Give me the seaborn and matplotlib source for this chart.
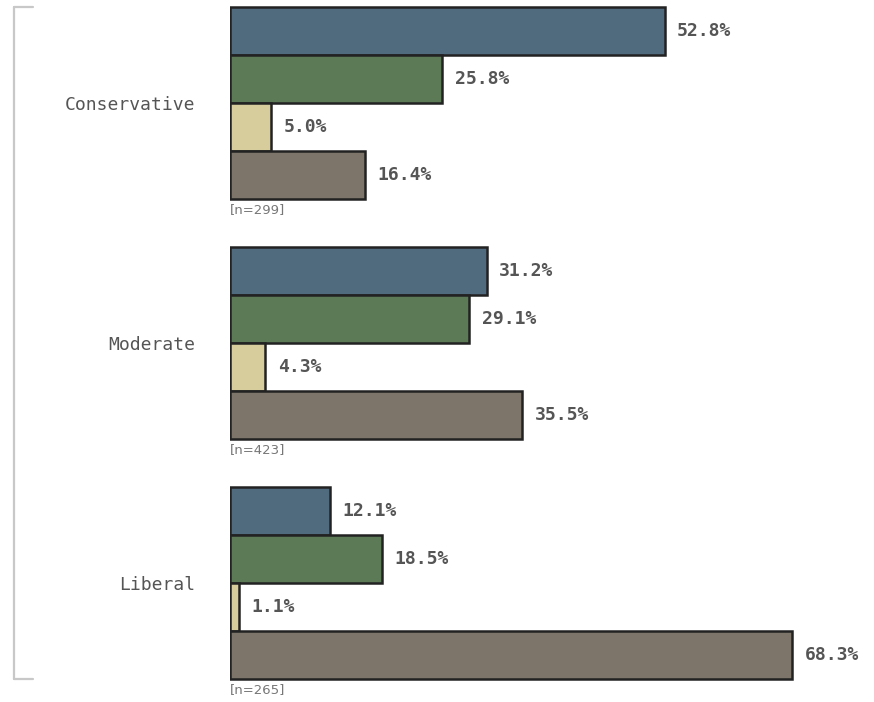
import matplotlib
matplotlib.use("Agg")
import matplotlib.pyplot as plt
import matplotlib.lines as mlines
import seaborn as sns
import pandas as pd

categories = ["Conservative", "Moderate", "Liberal"]
series = ["Series 1", "Series 2", "Series 3", "Series 4"]
values_s1 = [52.8, 31.2, 12.1]
values_s2 = [25.8, 29.1, 18.5]
values_s3 = [5.0, 4.3, 1.1]
values_s4 = [16.4, 35.5, 68.3]
n_labels = ["[n=299]", "[n=423]", "[n=265]"]
colors = ["#506a7e", "#5c7a56", "#d6cc9c", "#7d746a"]

rows = []
for s, vals in zip(series, [values_s1, values_s2, values_s3, values_s4]):
    for c, v in zip(categories, vals):
        rows.append({"category": c, "series": s, "value": v})
df = pd.DataFrame(rows)

sns.set_theme(style="white")
plt.rcParams["font.family"] = ["DejaVu Sans Mono", "DejaVu Sans"]

W, H = 874, 702
fig = plt.figure(figsize=(W / 100, H / 100), dpi=100)
left_px = 230
ax = fig.add_axes([left_px / W, 0, (W - left_px) / W, 1])

sns.barplot(data=df, y="category", x="value", hue="series", order=categories,
            hue_order=series, palette=colors, orient="h", width=0.8,
            edgecolor="#222222", linewidth=1.8, saturation=1, legend=False, ax=ax)

px_per_unit = 8.23
ax.set_xlim(0, (W - left_px) / px_per_unit)
ax.set_ylim((H - 103) / 240, -103 / 240)

for container in ax.containers:
    labels = [f"{b.get_width():.1f}%" for b in container]
    ax.bar_label(container, labels=labels, padding=9, fontsize=13,
                 fontweight="bold", color="#555555")

for i, lab in enumerate(n_labels):
    ax.text(0, i + 0.4 + 0.015, lab, ha="left", va="top", fontsize=9.5,
            color="#777777", family=["DejaVu Sans"])

ax.set_xlabel("")
ax.set_ylabel("")
ax.set_xticks([])
ax.tick_params(axis="y", length=0, pad=25, labelsize=13, labelcolor="#555555")
for sp in ax.spines.values():
    sp.set_visible(False)

# bracket
bx, btop, bbot, bend = 14, 7, 679, 33
kw = dict(color="#c8c8c8", linewidth=1.6, transform=fig.transFigure)
fig.add_artist(mlines.Line2D([bx / W, bx / W], [1 - btop / H, 1 - bbot / H], **kw))
fig.add_artist(mlines.Line2D([bx / W, bend / W], [1 - btop / H, 1 - btop / H], **kw))
fig.add_artist(mlines.Line2D([bx / W, bend / W], [1 - bbot / H, 1 - bbot / H], **kw))

fig.savefig("out.png", dpi=100)
